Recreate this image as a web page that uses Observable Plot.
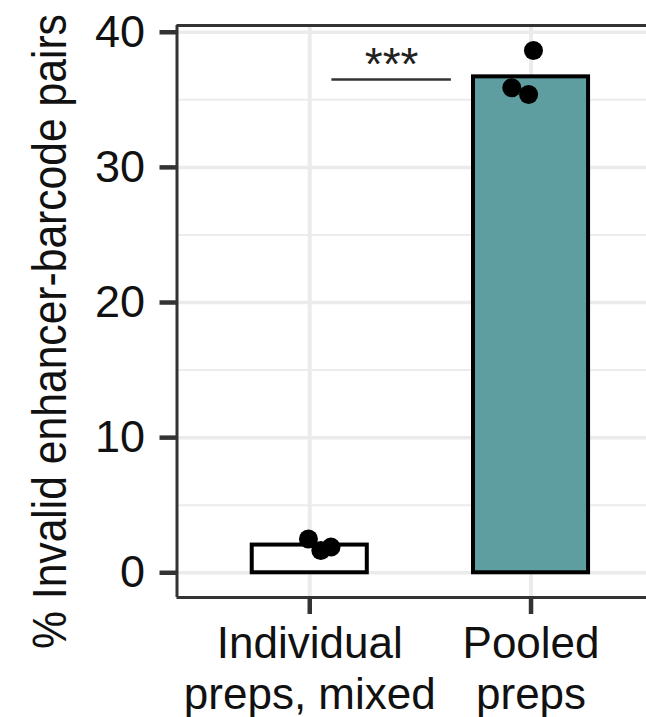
<!DOCTYPE html>
<html><head><meta charset="utf-8">
<script src="https://cdn.jsdelivr.net/npm/d3@7"></script>
<script src="https://cdn.jsdelivr.net/npm/@observablehq/plot@0.6"></script>
<style>
html,body{margin:0;padding:0;background:#fff;overflow:hidden;}
#chart{width:646px;height:717px;overflow:hidden;}
</style></head><body><div id="chart"></div>
<script>
// ---- data ----
const categories = ["Individual\npreps, mixed", "Pooled\npreps"];
const barMeans = [2.05, 36.7];
const pointCategory = [0, 0, 0, 1, 1, 1];
const pointValues = [2.5, 1.65, 1.9, 38.65, 35.9, 35.4];
const pointJitter = [-0.006, 0.05, 0.096, 0.011, -0.087, -0.011];
const yTicks = [0, 10, 20, 30, 40];
const yMinorTicks = [5, 15, 25, 35];
const yTitle = "% Invalid enhancer-barcode pairs";
const sigLabels = ["***"];
const sigFrom = [1.1];
const sigTo = [1.64];
const sigHeight = [36.5];

// ---- derived tables ----
const bars = categories.map((c, i) => ({c, pos: i + 1, mean: barMeans[i]}));
const points = pointValues.map((v, i) => ({
  c: categories[pointCategory[i]],
  pos: pointCategory[i] + 1 + pointJitter[i],
  value: v
}));
const sig = sigLabels.map((t, i) => ({label: t, x1: sigFrom[i], x2: sigTo[i], y: sigHeight[i]}));

const xDomain = [0.4, 2.6];
const yDomain = [-1.83, 40.5];
const halfBar = 0.26;

const chart = Plot.plot({
  width: 646,
  height: 717,
  marginLeft: 176.5,
  marginRight: 0,
  marginTop: 25,
  marginBottom: 120,
  style: {fontFamily: "'Liberation Sans', Arial, sans-serif", background: "white", color: "#111"},
  x: {type: "linear", domain: xDomain, range: [176.5, 663.3]},
  y: {domain: yDomain},
  color: {domain: categories, range: ["white", "cadetblue"]},
  marks: [
    Plot.ruleY(yMinorTicks, {stroke: "#ececec", strokeWidth: 2}),
    Plot.ruleY(yTicks, {stroke: "#ebebeb", strokeWidth: 3.5}),
    Plot.ruleX([1, 2], {stroke: "#ebebeb", strokeWidth: 4}),
    Plot.rect(bars, {x1: d => d.pos - halfBar, x2: d => d.pos + halfBar, y1: 0, y2: "mean", fill: "c", stroke: "black", strokeWidth: 4}),
    Plot.dot(points, {x: "pos", y: "value", r: 9.5, fill: "black", stroke: "none"}),
    Plot.ruleY(sig, {x1: "x1", x2: "x2", y: "y", stroke: "#333", strokeWidth: 2.5}),
    Plot.text(sig, {x: d => (d.x1 + d.x2) / 2, y: "y", text: "label", lineAnchor: "bottom", fontSize: 46, fill: "#222"}),
    Plot.ruleX([xDomain[0]], {stroke: "#333", strokeWidth: 3}),
    Plot.ruleY(yDomain, {stroke: "#333", strokeWidth: 3}),
    Plot.axisY(yTicks, {tickSize: 17, tickPadding: 15, fontSize: 45, stroke: "#333", strokeWidth: 4.5, fill: "#111", label: null}),
    Plot.axisX([1, 2], {tickFormat: i => categories[i - 1], tickSize: 17, tickPadding: 8, fontSize: 44, lineHeight: 1.15, stroke: "#333", strokeWidth: 4.5, fill: "#111", label: null}),
    Plot.text([yTitle], {frameAnchor: "left", text: d => d, rotate: -90, dx: 65 - 176.5, dy: 20, fontSize: 49, lineAnchor: "bottom", textAnchor: "middle", fill: "#111"})
  ]
});
// the reference's axis title is drawn condensed along its length
d3.select(chart).selectAll("text")
  .filter(function() { return this.textContent === yTitle; })
  .attr("transform", function() { return (this.getAttribute("transform") || "") + " scale(0.87,1)"; });
document.getElementById("chart").appendChild(chart);
</script>
</body></html>
